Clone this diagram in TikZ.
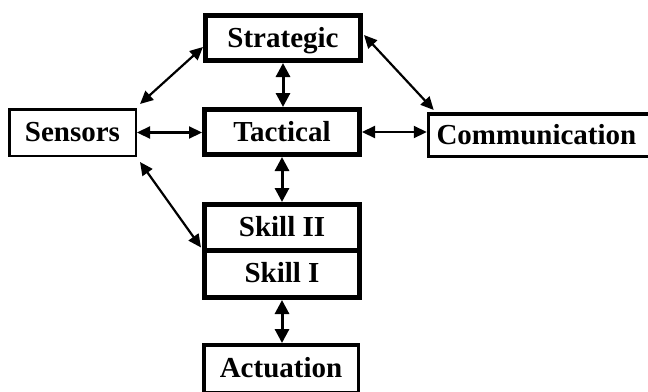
\documentclass[tikz,border=0pt]{standalone}
\usepackage{fontspec}
\setmainfont{Liberation Serif}
\usetikzlibrary{arrows.meta}
\begin{document}
\begin{tikzpicture}[x=1pt,y=-1pt,
  every node/.style={font=\fontsize{29}{32}\selectfont\bfseries, inner sep=0pt,
    text height=22pt, text depth=4pt},
  heavybox/.style={draw, line width=5pt, minimum width=155pt},
  lightbox/.style={draw, line width=2.5pt},
  openbox/.style={draw, line width=3.5pt},
  link/.style={line width=2.2pt,
    {Triangle[length=13pt,width=12pt]}-{Triangle[length=13pt,width=12pt]}},
  vlink/.style={line width=3pt,
    {Triangle[length=14pt,width=14pt]}-{Triangle[length=14pt,width=14pt]}}]
  \useasboundingbox (0,0) rectangle (648,391);

  % layers of the control hierarchy
  \node[heavybox, minimum height=45pt] (strategic) at (283,38) {Strategic};
  \node[heavybox, minimum height=45pt] (tactical) at (282,132) {Tactical};
  \node[heavybox, minimum height=45.5pt] (skill2) at (282,227.25) {Skill II};
  \node[heavybox, minimum height=47.5pt] (skill1) at (282,273.75) {Skill I};

  % peripheral modules
  \node[lightbox, minimum width=126.5pt, minimum height=46.5pt] (sensors) at (72.5,132.5) {Sensors};
  \node[openbox, anchor=west, text width=225pt, align=left, inner xsep=8pt,
        minimum height=42.5pt] (comm) at (426.75,135) {Communication};
  \node[openbox, minimum width=154.5pt, minimum height=48.25pt] (actuation) at (281,368.9) {Actuation};

  % connections
  \draw[link] ([xshift=3pt,yshift=4pt]sensors.north east) -- ([yshift=16pt]strategic.south west);
  \draw[link] ([xshift=1pt,yshift=-22pt]strategic.north east) -- ([xshift=7pt,yshift=2pt]comm.north west);
  \draw[link] (sensors.east) -- (sensors.east -| tactical.west);
  \draw[link] (tactical.east) -- (tactical.east -| comm.west);
  \draw[link] ([xshift=3pt,yshift=-5pt]sensors.south east) -- ([xshift=-1pt,yshift=5pt]skill2.south west);
  \draw[vlink] (tactical.north -| strategic.south) -- (strategic.south);
  \draw[vlink] (tactical.south) -- (skill2.north);
  \draw[vlink] (skill1.south) -- (skill1.south |- actuation.north);
\end{tikzpicture}
\end{document}
